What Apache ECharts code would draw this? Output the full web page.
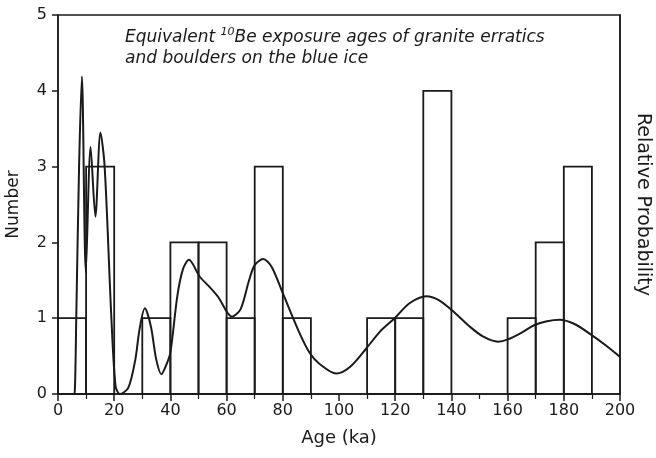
<!DOCTYPE html>
<html>
<head>
<meta charset="utf-8">
<script src="https://cdn.jsdelivr.net/npm/echarts@6/dist/echarts.min.js"></script>
<style>
  html, body { margin: 0; padding: 0; background: #fff; }
  #chart { width: 656px; height: 458px; }
</style>
</head>
<body>
<div id="chart"></div>
<script>
  // histogram bins (ka) and counts
  var binStart = [0, 10, 20, 30, 40, 50, 60, 70, 80, 90, 100, 110, 120, 130, 140, 150, 160, 170, 180, 190]
  var binWidth = 10
  var counts = [1, 3, 0, 1, 2, 2, 1, 3, 1, 0, 0, 1, 1, 4, 0, 0, 1, 2, 3, 0]

  // relative probability curve
  var probAge = [0, 5.5, 6, 6.5, 7.5, 8.5, 9.9, 11.6, 13.3, 15.1, 16.6, 19, 20.5, 22, 25, 27.5, 29, 30.9, 33, 35, 36.8,
    38.5, 40, 42.5, 44.5, 46.6, 50.4, 54, 57, 61.9, 65, 68, 70, 73, 76, 80, 86, 89.6, 93, 99, 104, 109.7, 114.5, 119.8, 125.2,
    131.1, 135.5, 140, 146.5, 151.2, 156.6, 160.1, 165, 169.6, 174, 178.5, 184, 189.8, 195, 200]
  var probValue = [0, 0, 0.05, 1.0, 3.0, 4.19, 1.61, 3.26, 2.34, 3.45, 3.0, 1.0, 0.1, 0, 0.08, 0.45, 0.85, 1.13, 0.9, 0.45, 0.26,
    0.38, 0.55, 1.3, 1.65, 1.77, 1.55, 1.41, 1.28, 1.02, 1.12, 1.5, 1.7, 1.78, 1.68, 1.33, 0.8, 0.54, 0.4, 0.27, 0.36, 0.6, 0.82, 1.0, 1.2,
    1.29, 1.24, 1.11, 0.89, 0.76, 0.69, 0.72, 0.81, 0.91, 0.96, 0.98, 0.92, 0.78, 0.64, 0.49]

  var ink = '#1a1a1a'
  var font = 'DejaVu Sans'

  var chart = echarts.init(document.getElementById('chart'))

  var bars = binStart.map(function (s, i) { return [s, s + binWidth, counts[i]] })
  var curve = probAge.map(function (a, i) { return [a, probValue[i]] })

  chart.setOption({
    animation: false,
    title: {
      left: 120,
      top: 22,
      text: '{a|Equivalent }{s|10}{a|Be exposure ages of granite erratics}\n{a|and boulders on the blue ice}',
      textStyle: {
        fontWeight: 'normal',
        rich: {
          a: { fontFamily: font, fontStyle: 'italic', fontWeight: 'normal', fontSize: 17, color: ink, lineHeight: 21 },
          s: { fontFamily: font, fontStyle: 'italic', fontWeight: 'normal', fontSize: 11, color: ink, verticalAlign: 'top', lineHeight: 21 }
        }
      }
    },
    grid: {
      left: 58, right: 36, top: 15, bottom: 64,
      outerBoundsMode: 'none', containLabel: false,
      show: true, borderColor: ink, borderWidth: 1.5, backgroundColor: 'transparent'
    },
    xAxis: {
      type: 'value', min: 0, max: 200, interval: 20,
      name: 'Age (ka)', nameLocation: 'middle', nameGap: 35,
      nameTextStyle: { fontFamily: font, fontSize: 18, color: ink },
      axisLine: { lineStyle: { color: ink, width: 1.5 } },
      axisTick: { length: 7, lineStyle: { color: ink, width: 1.5 } },
      minorTick: { show: true, splitNumber: 2, length: 5, lineStyle: { color: ink, width: 1.2 } },
      axisLabel: { fontFamily: font, fontSize: 16, color: ink, margin: 9 },
      splitLine: { show: false }
    },
    yAxis: [
      {
        type: 'value', min: 0, max: 5, interval: 1,
        name: 'Number', nameLocation: 'middle', nameGap: 36,
        nameTextStyle: { fontFamily: font, fontSize: 17, color: ink },
        axisLine: { show: true, lineStyle: { color: ink, width: 1.5 } },
        axisTick: { show: true, length: 6, lineStyle: { color: ink, width: 1.5 } },
        axisLabel: { fontFamily: font, fontSize: 16, color: ink, margin: 11 },
        splitLine: { show: false }
      },
      {
        type: 'value', min: 0, max: 5, position: 'right',
        name: 'Relative Probability', nameLocation: 'middle', nameGap: 13, nameRotate: -90,
        nameTextStyle: { fontFamily: font, fontSize: 19, color: ink },
        axisLine: { show: true, lineStyle: { color: ink, width: 1.5 } },
        axisTick: { show: false },
        axisLabel: { show: false },
        splitLine: { show: false }
      }
    ],
    series: [
      {
        type: 'custom',
        data: bars,
        renderItem: function (params, api) {
          var h = api.value(2)
          if (!h) return
          var p0 = api.coord([api.value(0), h])
          var p1 = api.coord([api.value(1), 0])
          return {
            type: 'rect',
            shape: { x: p0[0], y: p0[1], width: p1[0] - p0[0], height: p1[1] - p0[1] },
            style: { fill: 'none', stroke: ink, lineWidth: 1.8 }
          }
        },
        encode: { x: [0, 1], y: 2 }
      },
      {
        type: 'line',
        yAxisIndex: 1,
        data: curve,
        smooth: 0.3,
        showSymbol: false,
        lineStyle: { color: ink, width: 2 }
      }
    ]
  })
</script>
</body>
</html>
